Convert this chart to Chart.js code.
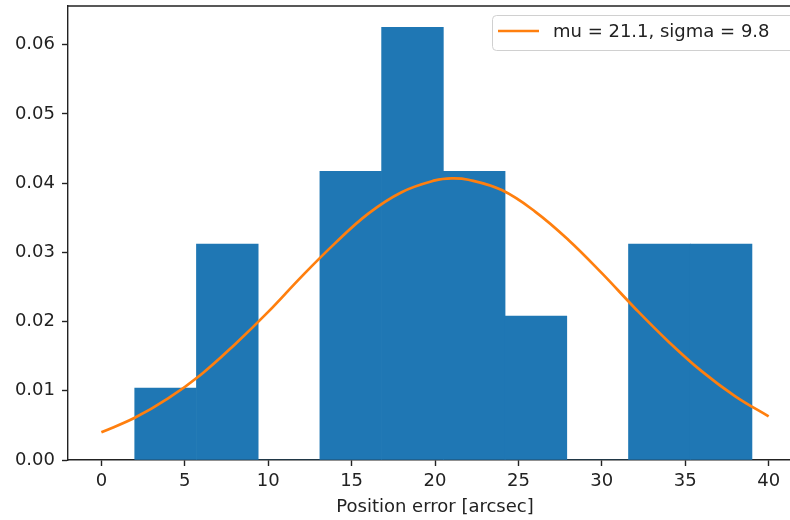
<!DOCTYPE html>
<html>
<head>
<meta charset="utf-8">
<script src="https://cdn.jsdelivr.net/npm/chart.js@4/dist/chart.umd.min.js"></script>
<style>
  body { margin: 0; overflow: hidden; background: #fff; }
  #wrap { width: 810px; height: 520px; position: relative; }
</style>
</head>
<body>
<div id="wrap"><canvas id="graph"></canvas></div>
<script>
// Histogram bins (centres, width 3.7) and normalised heights
const binCenters = [3.85, 7.55, 11.25, 14.95, 18.65, 22.35, 26.05, 29.75, 33.45, 37.15];
const binHeights = [0.0104, 0.0312, 0, 0.0417, 0.0625, 0.0417, 0.0208, 0, 0.0312, 0.0312];

// Fitted curve
const curveX = [0, 2, 4, 6, 8, 10, 12, 14, 16, 18, 20, 21, 22, 24, 26, 28, 30, 32, 34, 36, 38, 40];
const curveY = [0.0040, 0.0061, 0.0089, 0.0124, 0.0167, 0.0214, 0.0265, 0.0313, 0.0356, 0.0387, 0.0404, 0.0407,
                0.0405, 0.0390, 0.0359, 0.0318, 0.0270, 0.0219, 0.0171, 0.0128, 0.0092, 0.0063];

const xTicks = [0, 5, 10, 15, 20, 25, 30, 35, 40];
const yTicks = [0, 0.01, 0.02, 0.03, 0.04, 0.05, 0.06];
const curveLabel = 'mu = 21.1, sigma = 9.8';

const font = { family: 'DejaVu Sans', size: 18 };
const axisColor = '#222';

// top/right spines + matplotlib-like legend box
const framePlugin = {
    id: 'frame',
    afterDraw(chart) {
        const c = chart.ctx;
        const a = chart.chartArea;
        c.save();
        c.strokeStyle = axisColor;
        c.lineWidth = 1.4;
        c.beginPath();
        c.moveTo(a.left, a.top);
        c.lineTo(a.right, a.top);
        c.lineTo(a.right, a.bottom);
        c.stroke();

        // legend
        const x = 492, y = 15, w = 310, h = 35;
        c.fillStyle = 'rgba(255,255,255,0.8)';
        c.strokeStyle = '#d0d0d0';
        c.lineWidth = 1;
        c.beginPath();
        c.roundRect(x + 0.5, y + 0.5, w, h, 4);
        c.fill();
        c.stroke();
        c.strokeStyle = '#ff7f0e';
        c.lineWidth = 2.7;
        c.beginPath();
        c.moveTo(498, 31);
        c.lineTo(539, 31);
        c.stroke();
        c.fillStyle = '#222';
        c.font = '18px "DejaVu Sans"';
        c.textBaseline = 'middle';
        c.fillText(curveLabel, 553, 32);
        c.restore();
    }
};

const ctx = document.getElementById('graph').getContext('2d');

const chart = new Chart(ctx, {
    type: 'bar',
    data: {
        datasets: [{
            type: 'line',
            label: curveLabel,
            data: curveX.map((v, i) => ({ x: v, y: curveY[i] })),
            borderColor: '#ff7f0e',
            borderWidth: 2.7,
            pointRadius: 0,
            tension: 0.4,
            fill: false,
            order: 0
        }, {
            type: 'bar',
            label: 'hist',
            data: binCenters.map((v, i) => ({ x: v, y: binHeights[i] })),
            backgroundColor: '#1f77b4',
            borderWidth: 0,
            barPercentage: 1,
            categoryPercentage: 1,
            order: 1
        }]
    },
    options: {
        responsive: true,
        maintainAspectRatio: false,
        animation: false,
        layout: { padding: { top: 6, right: 8, left: 0, bottom: 0 } },
        scales: {
            x: {
                type: 'linear',
                min: -2,
                max: 42,
                offset: false,
                afterBuildTicks: s => { s.ticks = xTicks.map(v => ({ value: v })); },
                afterFit: s => { s.height = 60; },
                ticks: { font: font, color: '#222', padding: 5, maxRotation: 0, callback: v => v },
                grid: { offset: false, drawOnChartArea: false, drawTicks: true, tickLength: 6, color: axisColor, tickWidth: 1.4 },
                border: { display: true, color: axisColor, width: 1.4 },
                title: { display: true, text: 'Position error [arcsec]', font: font, color: '#222', padding: { top: 0, bottom: 2 } }
            },
            y: {
                type: 'linear',
                min: 0,
                max: 0.0656,
                afterBuildTicks: s => { s.ticks = yTicks.map(v => ({ value: v })); },
                afterFit: s => { s.width = 68; s.paddingTop = 0; s.paddingBottom = 0; },
                ticks: { font: font, color: '#222', padding: 7, callback: v => v.toFixed(2) },
                grid: { drawOnChartArea: false, drawTicks: true, tickLength: 6, color: axisColor, tickWidth: 1.4 },
                border: { display: true, color: axisColor, width: 1.4 }
            }
        },
        plugins: {
            legend: { display: false },
            tooltip: { enabled: false }
        }
    },
    plugins: [framePlugin]
});
</script>
</body>
</html>
